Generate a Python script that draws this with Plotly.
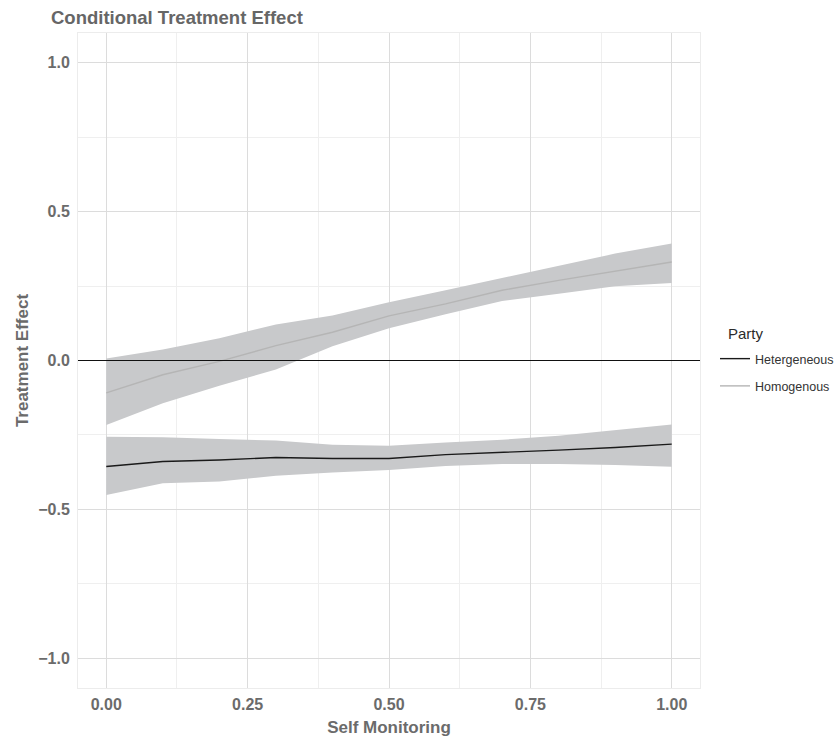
import plotly.graph_objects as go

self_monitoring = [0.0, 0.1, 0.2, 0.3, 0.4, 0.5, 0.6, 0.7, 0.8, 0.9, 1.0]

homo_est = [-0.109, -0.048, -0.003, 0.050, 0.095, 0.150, 0.190, 0.236, 0.269, 0.300, 0.331]
homo_hi = [0.007, 0.037, 0.075, 0.121, 0.151, 0.196, 0.236, 0.277, 0.318, 0.359, 0.393]
homo_lo = [-0.217, -0.144, -0.085, -0.030, 0.048, 0.108, 0.155, 0.200, 0.224, 0.249, 0.260]

het_est = [-0.356, -0.339, -0.334, -0.326, -0.329, -0.329, -0.316, -0.309, -0.301, -0.292, -0.281]
het_hi = [-0.256, -0.258, -0.264, -0.269, -0.283, -0.286, -0.275, -0.266, -0.253, -0.234, -0.215]
het_lo = [-0.452, -0.412, -0.406, -0.387, -0.376, -0.368, -0.354, -0.348, -0.348, -0.351, -0.357]

series_names = ["Hetergeneous", "Homogenous"]
series_colors = ["#1a1a1a", "#b5b5b5"]

x_ticks = [0.0, 0.25, 0.5, 0.75, 1.0]
x_ticklabels = ["0.00", "0.25", "0.50", "0.75", "1.00"]
y_ticks = [-1.0, -0.5, 0.0, 0.5, 1.0]
y_ticklabels = ["\u22121.0", "\u22120.5", "0.0", "0.5", "1.0"]

band_color = "#c8c9cb"
text_grey = "#6b6b6b"
FONT = "Liberation Sans, Arial, sans-serif"

# plot area in pixels
L, R, T, B = 78, 700, 33, 688
W, H = 837, 738
PW, PH = R - L, B - T

fig = go.Figure()

for lo, hi in [(het_lo, het_hi), (homo_lo, homo_hi)]:
    fig.add_trace(go.Scatter(x=self_monitoring, y=hi, mode="lines", line=dict(width=0),
                             showlegend=False, hoverinfo="skip"))
    fig.add_trace(go.Scatter(x=self_monitoring, y=lo, mode="lines", line=dict(width=0),
                             fill="tonexty", fillcolor=band_color, showlegend=False, hoverinfo="skip"))

for name, est, col in zip(series_names, [het_est, homo_est], series_colors):
    fig.add_trace(go.Scatter(x=self_monitoring, y=est, mode="lines", name=name, legendgroup=name,
                             line=dict(color=col, width=1.4)))

fig.add_shape(type="line", xref="x domain", x0=0, x1=1, yref="y", y0=0, y1=0,
              line=dict(color="#111111", width=1.2), layer="above")

fig.add_annotation(text="Party", xref="paper", yref="paper",
                   x=(726 - L) / PW, y=(B - 333) / PH, xanchor="left", yanchor="middle",
                   showarrow=False, font=dict(size=15, color="#2b2b2b", family=FONT))

fig.update_layout(
    width=W, height=H,
    margin=dict(l=L, r=W - R, t=T, b=H - B, autoexpand=False),
    paper_bgcolor="white", plot_bgcolor="white",
    font=dict(family=FONT, color=text_grey),
    title=dict(text="<b>Conditional Treatment Effect</b>", x=51 / W, xref="container", xanchor="left",
               y=1 - 18 / H, yref="container", yanchor="middle", pad=dict(l=0, t=0, b=0),
               automargin=False,
               font=dict(size=18.5, color="#666666", family=FONT)),
    legend=dict(font=dict(size=12.5, color="#333333"),
                traceorder="grouped",
                x=(715 - L) / PW, xanchor="left", y=(B - 372.5) / PH, yanchor="middle",
                bgcolor="rgba(0,0,0,0)", tracegroupgap=8),
    showlegend=True,
)

fig.update_xaxes(range=[-0.05, 1.05], tickvals=x_ticks, ticktext=x_ticklabels, automargin=False,
                 showgrid=True, gridcolor="#dcdcdc", gridwidth=1, zeroline=False,
                 minor=dict(tickvals=[0.125, 0.375, 0.625, 0.875], showgrid=True,
                            gridcolor="#efefef", gridwidth=1),
                 tickfont=dict(size=16, color=text_grey, family=FONT, weight="bold"),
                 title=dict(text="<b>Self Monitoring</b>", font=dict(size=17, color=text_grey), standoff=8),
                 showline=True, linecolor="#ececec", mirror=True, ticks="", ticklabelstandoff=2)

fig.update_yaxes(range=[-1.1, 1.1], tickvals=y_ticks, ticktext=y_ticklabels, automargin=False,
                 showgrid=True, gridcolor="#dcdcdc", gridwidth=1, zeroline=False,
                 minor=dict(tickvals=[-0.75, -0.25, 0.25, 0.75], showgrid=True,
                            gridcolor="#efefef", gridwidth=1),
                 tickfont=dict(size=16, color=text_grey, family=FONT, weight="bold"),
                 title=dict(text="<b>Treatment Effect</b>", font=dict(size=17, color=text_grey), standoff=5),
                 showline=True, linecolor="#ececec", mirror=True, ticks="", ticklabelstandoff=4)

fig.write_html("out.html", config={"displayModeBar": False},
               post_script="document.body.style.margin='0';document.body.style.padding='0';")
